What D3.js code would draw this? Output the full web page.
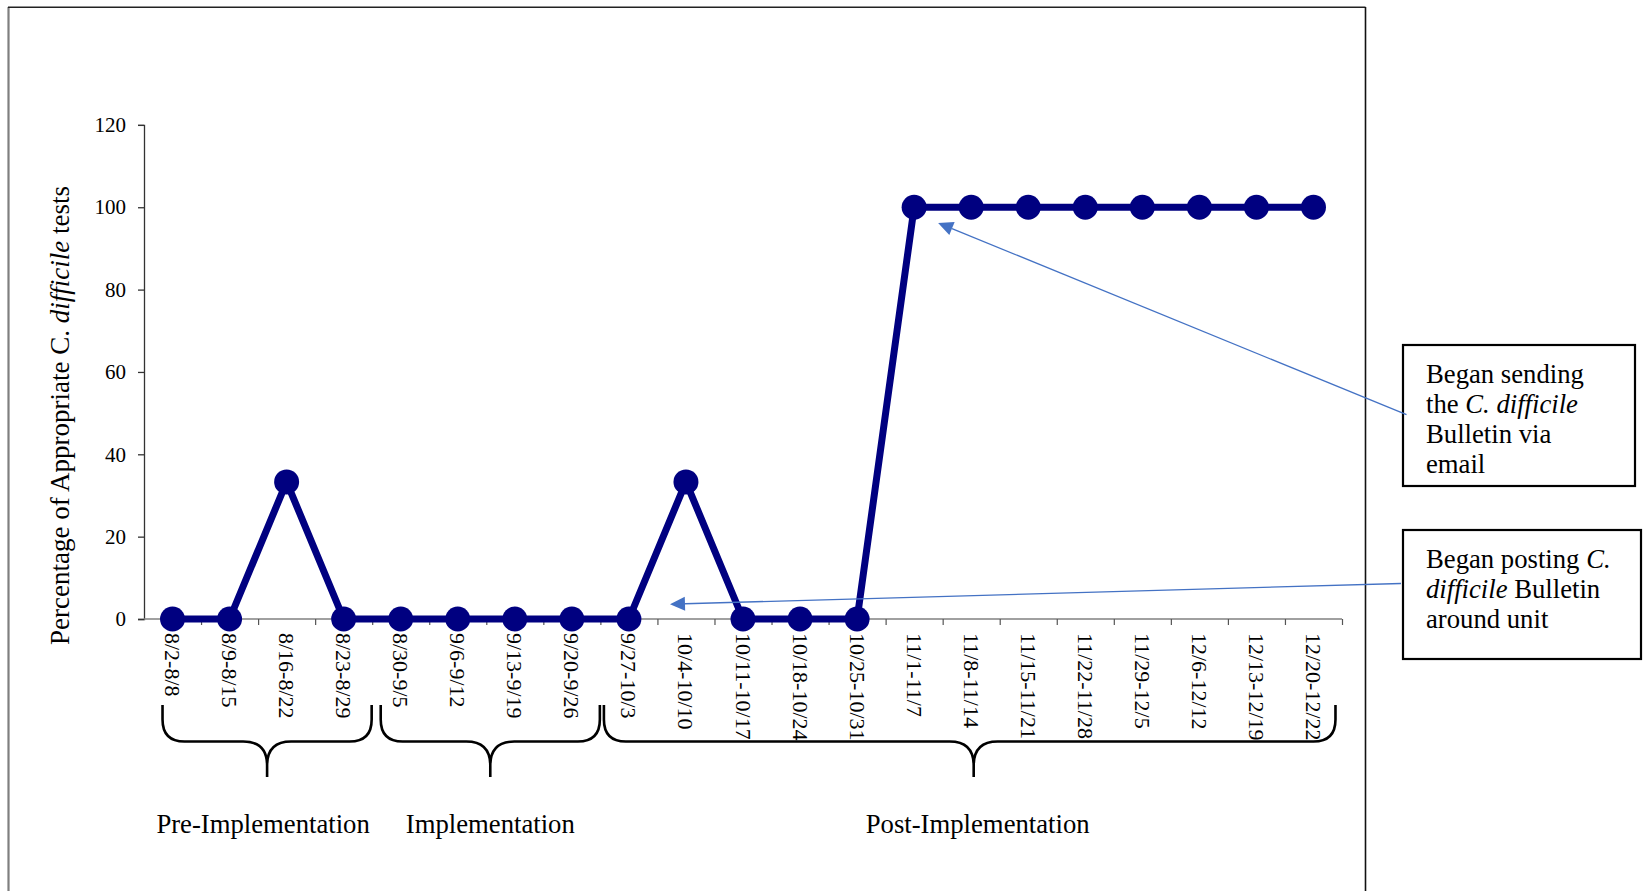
<!DOCTYPE html>
<html>
<head>
<meta charset="utf-8">
<script src="https://cdn.jsdelivr.net/npm/d3@7"></script>
<style>
  html, body { margin: 0; padding: 0; background: #fff; }
  svg { display: block; font-family: "Liberation Serif", "Times New Roman", serif; }
</style>
</head>
<body>
<svg id="chart" width="1646" height="891"></svg>
<script>
// Weekly share of appropriate C. difficile tests
const categories = [
  "8/2-8/8", "8/9-8/15", "8/16-8/22", "8/23-8/29",
  "8/30-9/5", "9/6-9/12", "9/13-9/19", "9/20-9/26",
  "9/27-10/3", "10/4-10/10", "10/11-10/17", "10/18-10/24", "10/25-10/31",
  "11/1-11/7", "11/8-11/14", "11/15-11/21", "11/22-11/28",
  "11/29-12/5", "12/6-12/12", "12/13-12/19", "12/20-12/22"
];
const values = [
  0, 0, 33.3, 0,
  0, 0, 0, 0,
  0, 33.3, 0, 0, 0,
  100, 100, 100, 100,
  100, 100, 100, 100
];
const yTicks = [0, 20, 40, 60, 80, 100, 120];

// Study phases, bracketed under the axis
const phaseNames = ["Pre-Implementation", "Implementation", "Post-Implementation"];
const phaseFirst = ["8/2-8/8", "8/30-9/5", "9/27-10/3"];
const phaseLast  = ["8/23-8/29", "9/20-9/26", "12/20-12/22"];

// Callouts: text lines (segments flagged italic) and the point the arrow refers to
const noteLines = [
  [[["Began sending", false]], [["the ", false], ["C. difficile", true]], [["Bulletin via", false]], [["email", false]]],
  [[["Began posting ", false], ["C.", true]], [["difficile", true], [" Bulletin", false]], [["around unit", false]]]
];
const noteCategory = ["11/1-11/7", "10/4-10/10"];
const noteValue = [96.2, 3.6];

// ---- layout ----
const W = 1646, H = 891;
const plot = { left: 144, right: 1342, top: 124.9, bottom: 619 };
const lineColor = "#000080";
const arrowColor = "#4472C4";
const bigFont = 26.7;

const svg = d3.select("#chart");

// outer chart frame (open at the bottom)
svg.append("line").attr("x1", 8.5).attr("x2", 8.5).attr("y1", 7).attr("y2", H)
  .attr("stroke", "#7f7f7f").attr("stroke-width", 2.2);
svg.append("line").attr("x1", 8).attr("x2", 1365.5).attr("y1", 7.3).attr("y2", 7.3)
  .attr("stroke", "#222").attr("stroke-width", 1.5);
svg.append("line").attr("x1", 1365.5).attr("x2", 1365.5).attr("y1", 7).attr("y2", H)
  .attr("stroke", "#111").attr("stroke-width", 1.6);

const x = d3.scaleBand().domain(categories).range([plot.left, plot.right]).paddingInner(0).paddingOuter(0);
const xEdge = d3.scaleLinear().domain([0, categories.length]).range([plot.left, plot.right]);
const y = d3.scaleLinear().domain([0, 120]).range([plot.bottom, plot.top]);
const cx = d => x(d) + x.bandwidth() / 2;

// y axis
const yAxis = svg.append("g")
  .attr("transform", `translate(${plot.left},0)`)
  .call(d3.axisLeft(y).tickValues(yTicks).tickSize(6).tickPadding(12));
yAxis.select(".domain").attr("stroke", "#333").attr("stroke-width", 1.3);
yAxis.selectAll(".tick line").attr("stroke", "#333").attr("stroke-width", 1.3);
yAxis.selectAll(".tick text")
  .attr("font-family", "Liberation Serif").attr("font-size", 21).attr("fill", "#000");

// x axis: ticks sit on the week boundaries
const xAxis = svg.append("g")
  .attr("transform", `translate(0,${plot.bottom})`)
  .call(d3.axisBottom(xEdge).tickValues(d3.range(1, categories.length + 1)).tickSize(6).tickFormat(""));
xAxis.select(".domain").attr("stroke", "#808080").attr("stroke-width", 1.6)
  .attr("d", `M${plot.left},0H${plot.right}`);
xAxis.selectAll(".tick line").attr("stroke", "#555").attr("stroke-width", 1.2);

// rotated week labels
svg.append("g").selectAll("text").data(categories).join("text")
  .attr("transform", d => `translate(${cx(d)},633) rotate(90)`)
  .attr("text-anchor", "start")
  .attr("dominant-baseline", "central")
  .attr("font-size", 22)
  .attr("fill", "#000")
  .text(d => d);

// y axis title
const yTitle = svg.append("text")
  .attr("transform", "translate(69,415.5) rotate(-90)")
  .attr("text-anchor", "middle")
  .attr("font-size", 27)
  .attr("fill", "#000");
yTitle.append("tspan").text("Percentage of Appropriate C. ");
yTitle.append("tspan").attr("font-style", "italic").text("difficile");
yTitle.append("tspan").text(" tests");

// data line and markers
const series = categories.map((c, i) => ({ c, v: values[i] }));
svg.append("path")
  .datum(series)
  .attr("fill", "none")
  .attr("stroke", lineColor)
  .attr("stroke-width", 7)
  .attr("stroke-linejoin", "round")
  .attr("d", d3.line().x(d => cx(d.c)).y(d => y(d.v)));
svg.append("g").selectAll("circle").data(series).join("circle")
  .attr("cx", d => cx(d.c))
  .attr("cy", d => y(d.v))
  .attr("r", 12.5)
  .attr("fill", lineColor);

// phase braces
const braceTop = 705, braceMid = 741.5, braceTip = 777;
const bracePad = [[-10, 28], [-20, 28], [-25, 22]];
const braceTipShift = [0, 0, 4];
const labelShift = [-4, 0, 4];
phaseNames.forEach((name, i) => {
  const x0 = cx(phaseFirst[i]) + bracePad[i][0];
  const x1 = cx(phaseLast[i]) + bracePad[i][1];
  const xc = (x0 + x1) / 2 + braceTipShift[i];
  const r = 22, r2 = 24;
  const d =
    `M${x0},${braceTop} L${x0},${braceMid - r} Q${x0},${braceMid} ${x0 + r},${braceMid} ` +
    `L${xc - r2},${braceMid} Q${xc},${braceMid} ${xc},${braceMid + r2} L${xc},${braceTip} ` +
    `M${x1},${braceTop} L${x1},${braceMid - r} Q${x1},${braceMid} ${x1 - r},${braceMid} ` +
    `L${xc + r2},${braceMid} Q${xc},${braceMid} ${xc},${braceMid + r2}`;
  svg.append("path").attr("d", d).attr("fill", "none")
    .attr("stroke", "#000").attr("stroke-width", 2.6);
  svg.append("text")
    .attr("x", xc + labelShift[i])
    .attr("y", 832.5)
    .attr("text-anchor", "middle")
    .attr("font-size", bigFont)
    .attr("fill", "#000")
    .text(name);
});

// callout boxes
const boxes = [
  { x0: 1403, y0: 345, x1: 1635, y1: 486, line: [1406.5, 414.7], tipDx: 0.42 },
  { x0: 1403, y0: 530, x1: 1641, y1: 659, line: [1401, 583.5], tipDx: -0.28 }
];
boxes.forEach((b, i) => {
  svg.append("rect")
    .attr("x", b.x0).attr("y", b.y0)
    .attr("width", b.x1 - b.x0).attr("height", b.y1 - b.y0)
    .attr("fill", "#fff").attr("stroke", "#000").attr("stroke-width", 2.2);
  noteLines[i].forEach((segs, k) => {
    const t = svg.append("text")
      .attr("x", 1426)
      .attr("y", b.y0 + 38 + k * 30)
      .attr("font-size", bigFont)
      .attr("fill", "#000");
    segs.forEach(([s, it]) => {
      const ts = t.append("tspan").text(s);
      if (it) ts.attr("font-style", "italic");
    });
  });

  // arrow from the box to its week
  const tx = cx(noteCategory[i]) + b.tipDx * x.bandwidth();
  const ty = y(noteValue[i]);
  const [sx, sy] = b.line;
  const ang = Math.atan2(ty - sy, tx - sx);
  const len = 15, half = 7;
  const bx = tx - len * Math.cos(ang), by = ty - len * Math.sin(ang);
  svg.append("line")
    .attr("x1", sx).attr("y1", sy).attr("x2", bx).attr("y2", by)
    .attr("stroke", arrowColor).attr("stroke-width", 1.3);
  const px = -Math.sin(ang), py = Math.cos(ang);
  svg.append("path")
    .attr("d", `M${tx},${ty} L${bx + half * px},${by + half * py} L${bx - half * px},${by - half * py} Z`)
    .attr("fill", arrowColor);
});
</script>
</body>
</html>
